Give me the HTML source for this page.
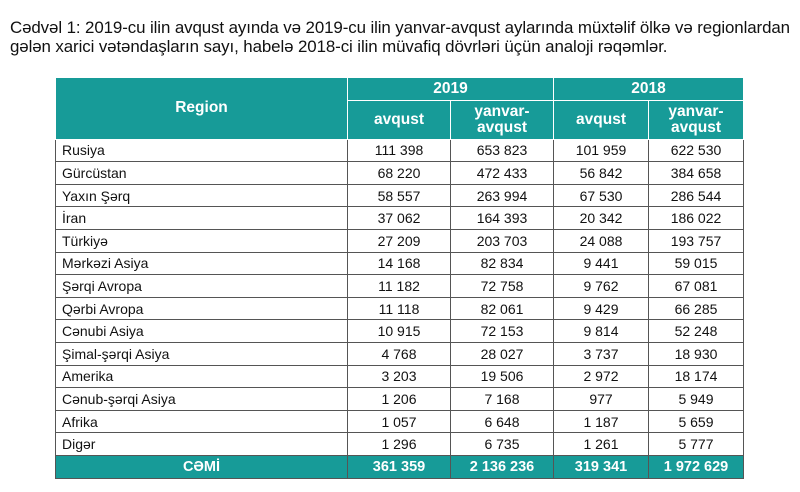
<!DOCTYPE html>
<html><head><meta charset="utf-8"><style>
body{margin:0;width:800px;height:492px;background:#fff;font-family:"Liberation Sans",Arial,sans-serif;overflow:hidden;position:relative}
.t{position:absolute;left:10px;top:18px;font-size:16.9px;line-height:19px;color:#111;white-space:nowrap;letter-spacing:-0.1px}
table{position:absolute;left:55px;top:77px;border-collapse:collapse;table-layout:fixed}
td{border:1px solid #555;font-size:14px;height:21.6px;padding:0;color:#111}
td.n{text-align:center}
td.r{padding-left:6px}
.h td{background:#179b98;color:#fff;font-weight:bold;text-align:center;font-size:15.5px;border-color:#fff}
.tot td{background:#179b98;color:#fff;font-weight:bold;text-align:center;font-size:14.5px;height:22px;border-color:#555}
</style></head><body>
<div class="t">Cədvəl 1: 2019-cu ilin avqust ayında və 2019-cu ilin yanvar-avqust aylarında müxtəlif ölkə və regionlardan<br>gələn xarici vətəndaşların sayı, habelə 2018-ci ilin müvafiq dövrləri üçün analoji rəqəmlər.</div>
<table>
<colgroup><col style="width:292px"><col style="width:103px"><col style="width:103px"><col style="width:95px"><col style="width:95px"></colgroup>
<tr class="h"><td rowspan="2">Region</td><td colspan="2" style="height:21px">2019</td><td colspan="2">2018</td></tr>
<tr class="h"><td style="height:38px">avqust</td><td style="line-height:16px">yanvar-<br>avqust</td><td>avqust</td><td style="line-height:16px">yanvar-<br>avqust</td></tr>
<tr><td class="r">Rusiya</td><td class="n">111 398</td><td class="n">653 823</td><td class="n">101 959</td><td class="n">622 530</td></tr>
<tr><td class="r">Gürcüstan</td><td class="n">68 220</td><td class="n">472 433</td><td class="n">56 842</td><td class="n">384 658</td></tr>
<tr><td class="r">Yaxın Şərq</td><td class="n">58 557</td><td class="n">263 994</td><td class="n">67 530</td><td class="n">286 544</td></tr>
<tr><td class="r">İran</td><td class="n">37 062</td><td class="n">164 393</td><td class="n">20 342</td><td class="n">186 022</td></tr>
<tr><td class="r">Türkiyə</td><td class="n">27 209</td><td class="n">203 703</td><td class="n">24 088</td><td class="n">193 757</td></tr>
<tr><td class="r">Mərkəzi Asiya</td><td class="n">14 168</td><td class="n">82 834</td><td class="n">9 441</td><td class="n">59 015</td></tr>
<tr><td class="r">Şərqi Avropa</td><td class="n">11 182</td><td class="n">72 758</td><td class="n">9 762</td><td class="n">67 081</td></tr>
<tr><td class="r">Qərbi Avropa</td><td class="n">11 118</td><td class="n">82 061</td><td class="n">9 429</td><td class="n">66 285</td></tr>
<tr><td class="r">Cənubi Asiya</td><td class="n">10 915</td><td class="n">72 153</td><td class="n">9 814</td><td class="n">52 248</td></tr>
<tr><td class="r">Şimal-şərqi Asiya</td><td class="n">4 768</td><td class="n">28 027</td><td class="n">3 737</td><td class="n">18 930</td></tr>
<tr><td class="r">Amerika</td><td class="n">3 203</td><td class="n">19 506</td><td class="n">2 972</td><td class="n">18 174</td></tr>
<tr><td class="r">Cənub-şərqi Asiya</td><td class="n">1 206</td><td class="n">7 168</td><td class="n">977</td><td class="n">5 949</td></tr>
<tr><td class="r">Afrika</td><td class="n">1 057</td><td class="n">6 648</td><td class="n">1 187</td><td class="n">5 659</td></tr>
<tr><td class="r">Digər</td><td class="n">1 296</td><td class="n">6 735</td><td class="n">1 261</td><td class="n">5 777</td></tr>
<tr class="tot"><td>CƏMİ</td><td>361 359</td><td>2 136 236</td><td>319 341</td><td>1 972 629</td></tr>
</table>
</body></html>
